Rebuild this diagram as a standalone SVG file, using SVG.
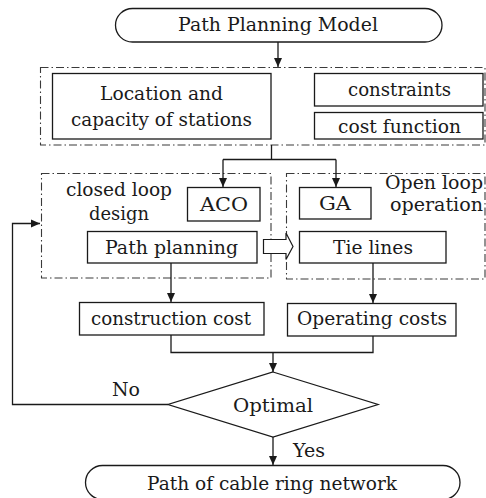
<svg xmlns="http://www.w3.org/2000/svg" width="486" height="498" viewBox="0 0 486 498">
<defs>
<marker id="ah" markerWidth="10" markerHeight="10" refX="9" refY="5" orient="auto" markerUnits="userSpaceOnUse">
<path d="M0,1 L9,5 L0,9 Z" fill="#1a1a1a"/>
</marker>
<style>
.box{fill:#fff;stroke:#1a1a1a;stroke-width:1.3}
.grp{fill:none;stroke:#3a3a3a;stroke-width:1.1;stroke-dasharray:8 3 1.5 3}
.ln{fill:none;stroke:#1a1a1a;stroke-width:1.3}
.arr{fill:none;stroke:#1a1a1a;stroke-width:1.3;marker-end:url(#ah)}
.t{font-family:'DejaVu Serif','Liberation Serif',serif;font-size:19px;fill:#1a1a1a}
.s{font-size:18px}
</style>
</defs>
<rect width="486" height="498" fill="#fff"/>

<g id="groups">
<rect class="grp" x="40.5" y="67.5" width="444.5" height="77.5"/>
<rect class="grp" x="41.5" y="173.5" width="229.5" height="104.5"/>
<rect class="grp" x="286.5" y="173.5" width="198.5" height="105.5"/>
</g>

<g id="connectors">
<line class="arr" x1="278" y1="42" x2="278" y2="67"/>
<polyline class="ln" points="271.5,145 271.5,159.5"/>
<polyline class="ln" points="223,159.5 336,159.5"/>
<line class="arr" x1="223" y1="159.5" x2="223" y2="187"/>
<line class="arr" x1="336" y1="159.5" x2="336" y2="187"/>
<line class="arr" x1="171" y1="263" x2="171" y2="302"/>
<line class="arr" x1="373" y1="263" x2="373" y2="303"/>
<polyline class="ln" points="171,335 171,352.5 373,352.5 373,336"/>
<line class="arr" x1="273" y1="352.5" x2="273" y2="372"/>
<line class="arr" x1="273" y1="437" x2="273" y2="465"/>
<polyline class="arr" points="168,404.5 12.5,404.5 12.5,223.5 40,223.5"/>
<path d="M263.5,239.5 H286 V233 L293,246.5 L286,259.5 V253.5 H263.5 Z" fill="#fff" stroke="#1a1a1a" stroke-width="1.2"/>
</g>

<g id="start">
<rect class="box" x="115.5" y="8.5" width="326.5" height="33.5" rx="17" ry="17"/>
<text class="t" x="178" y="31" textLength="200" lengthAdjust="spacingAndGlyphs">Path Planning Model</text>
</g>

<g id="location">
<rect class="box" x="52.5" y="73.5" width="218.5" height="65.5"/>
<text class="t" x="100" y="100" textLength="123" lengthAdjust="spacingAndGlyphs">Location and</text>
<text class="t" x="71" y="126" textLength="181" lengthAdjust="spacingAndGlyphs">capacity of stations</text>
</g>

<g id="constraints">
<rect class="box" x="314.5" y="73.5" width="168.5" height="32.5"/>
<text class="t" x="348" y="96" textLength="103" lengthAdjust="spacingAndGlyphs">constraints</text>
</g>

<g id="costfunction">
<rect class="box" x="314.5" y="112.5" width="168.5" height="26.5"/>
<text class="t" x="338" y="133" textLength="123" lengthAdjust="spacingAndGlyphs">cost function</text>
</g>

<g id="closedloop">
<text class="t" x="66" y="196" textLength="106" lengthAdjust="spacingAndGlyphs">closed loop</text>
<text class="t" x="89" y="220" textLength="60" lengthAdjust="spacingAndGlyphs">design</text>
</g>

<g id="aco">
<rect class="box" x="187.5" y="187.5" width="72.5" height="33.5"/>
<text class="t" x="200" y="211" textLength="48" lengthAdjust="spacingAndGlyphs">ACO</text>
</g>

<g id="pathplanning">
<rect class="box" x="87.5" y="231.5" width="169.5" height="31.5"/>
<text class="t" x="105" y="254" textLength="133" lengthAdjust="spacingAndGlyphs">Path planning</text>
</g>

<g id="openloop">
<text class="t s" x="385" y="189" textLength="98" lengthAdjust="spacingAndGlyphs">Open loop</text>
<text class="t s" x="390" y="211" textLength="93" lengthAdjust="spacingAndGlyphs">operation</text>
</g>

<g id="ga">
<rect class="box" x="299.5" y="187.5" width="71.5" height="31.5"/>
<text class="t" x="319" y="210" textLength="32" lengthAdjust="spacingAndGlyphs">GA</text>
</g>

<g id="tielines">
<rect class="box" x="299.5" y="231.5" width="146.5" height="31.5"/>
<text class="t" x="333" y="254" textLength="80" lengthAdjust="spacingAndGlyphs">Tie lines</text>
</g>

<g id="construction">
<rect class="box" x="79.5" y="302.5" width="184.5" height="32.5"/>
<text class="t" x="91" y="325" textLength="160" lengthAdjust="spacingAndGlyphs">construction cost</text>
</g>

<g id="operating">
<rect class="box" x="287.5" y="303.5" width="168.5" height="32.5"/>
<text class="t" x="297" y="325" textLength="150" lengthAdjust="spacingAndGlyphs">Operating costs</text>
</g>

<g id="optimal">
<polygon class="box" points="273,372 378,404.5 273,437 168,404.5"/>
<text class="t" x="233" y="412" textLength="80" lengthAdjust="spacingAndGlyphs">Optimal</text>
</g>

<g id="labels">
<text class="t" x="112" y="396" textLength="28" lengthAdjust="spacingAndGlyphs">No</text>
<text class="t" x="293" y="457" textLength="32" lengthAdjust="spacingAndGlyphs">Yes</text>
</g>

<g id="end">
<rect class="box" x="85.5" y="465.5" width="374.5" height="34" rx="17" ry="17"/>
<text class="t" x="147" y="490" textLength="250" lengthAdjust="spacingAndGlyphs">Path of cable ring network</text>
</g>
</svg>
